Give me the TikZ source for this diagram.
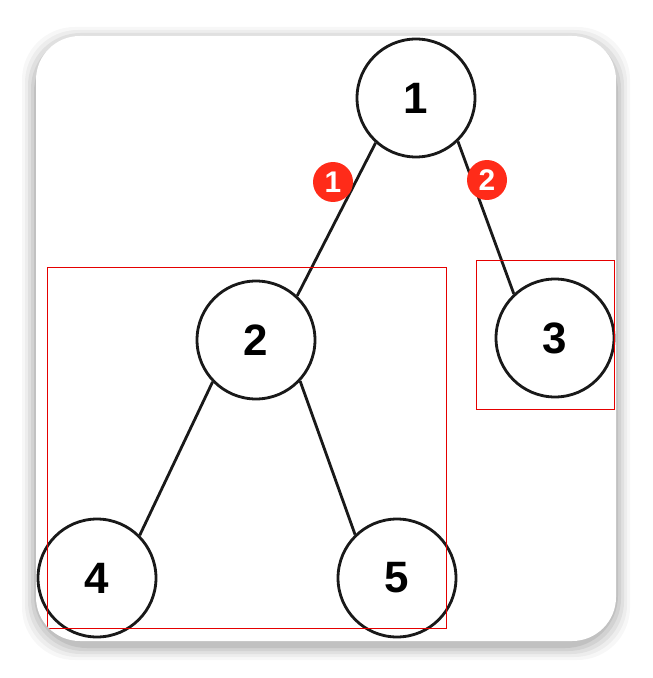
\documentclass[tikz,border=0pt]{standalone}
\usepackage{fontspec}
\setmainfont{Liberation Sans}
\begin{document}
\begin{tikzpicture}[x=0.02cm,y=-0.02cm,
  tnode/.style={circle,draw=black!90,line width=1.6pt,minimum size=2.36cm,inner sep=0pt,font=\fontsize{25}{25}\selectfont\bfseries},
  edge/.style={draw=black!90,line width=1.6pt},
  badge/.style={circle,fill=red!85!orange!90,text=white,minimum size=0.8cm,inner sep=0pt,font=\fontsize{17}{17}\selectfont\bfseries},
  redbox/.style={draw=red!90!black,line width=0.8pt}]
\useasboundingbox (0,0) rectangle (652,678);
\fill[white] (0,0) rectangle (652,678);
\foreach \i/\o in {14/0.03,11/0.04,8/0.05,5/0.06,2/0.08}{
  \fill[black,opacity=\o,rounded corners=30] (36-\i,36-\i+5) rectangle (616+\i,641+\i+5);}
\fill[white,rounded corners=25] (36,36) rectangle (616,641);
\begin{scope}
\clip[rounded corners=25] (36,36) rectangle (616,641);
\node[tnode] (n1) at (416,98) {1};
\node[tnode] (n2) at (256,340) {2};
\node[tnode] (n3) at (555,338) {3};
\node[tnode] (n4) at (97,578) {4};
\node[tnode] (n5) at (397,578) {5};
\draw[edge] (n1.228) -- (n2.47);
\draw[edge] (n1.314) -- (n3.133);
\draw[edge] (n2.224) -- (n4.45);
\draw[edge] (n2.317) -- (n5.134);
\node[redbox,minimum width=7.98cm,minimum height=7.22cm,anchor=north west] (b1) at (47,267) {};
\node[redbox,minimum width=2.76cm,minimum height=2.98cm,anchor=north west] (b2) at (476,260) {};
\node[badge] (a1) at (333,182) {1};
\node[badge] (a2) at (487,180) {2};
\end{scope}
\end{tikzpicture}
\end{document}
